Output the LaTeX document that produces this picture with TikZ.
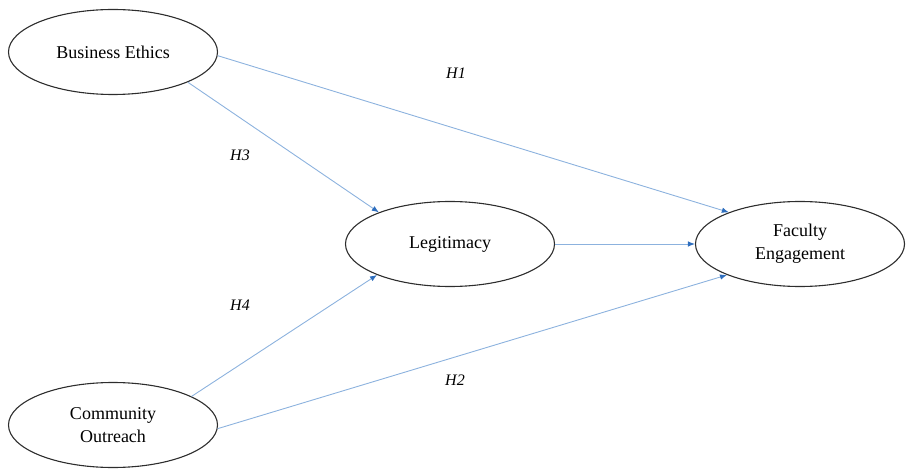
\documentclass[tikz,border=0pt]{standalone}
\usepackage{fontspec}
\setmainfont{Liberation Serif}
\usetikzlibrary{shapes.geometric,arrows.meta}
\definecolor{linkblue}{RGB}{140,178,222}
\definecolor{tipblue}{RGB}{46,110,190}
\definecolor{edgegray}{RGB}{45,45,45}
\begin{document}
\begin{tikzpicture}[x=1pt,y=1pt,
  construct/.style={ellipse,draw=edgegray,line width=1.1pt,inner sep=0pt,
    minimum width=209pt,minimum height=85pt,align=center,
    font=\fontsize{18}{23}\selectfont},
  link/.style={draw=linkblue,line width=0.9pt,
    -{Latex[length=7pt,width=5.5pt,color=tipblue]}},
  hyp/.style={font=\fontsize{16}{19}\selectfont\itshape}]
\useasboundingbox (0,0) rectangle (908,472);
\node[construct] (be) at (113,420) {Business Ethics};
\node[construct] (lg) at (450,228) {Legitimacy};
\node[construct] (fe) at (800,228) {Faculty\\Engagement};
\node[construct] (co) at (113,47) {Community\\Outreach};
\draw[link] (be.-2) -- (fe.156.7);
\draw[link] (be.-22.5) -- (lg.156.3);
\draw[link] (lg.0) -- (fe.180);
\draw[link] (co.20.5) -- (lg.203.7);
\draw[link] (co.-2.7) -- (fe.203.3);
\node[hyp] (h1) at (456,399) {H1};
\node[hyp] (h3) at (240,317) {H3};
\node[hyp] (h4) at (240,167) {H4};
\node[hyp] (h2) at (455,92) {H2};
\end{tikzpicture}
\end{document}
